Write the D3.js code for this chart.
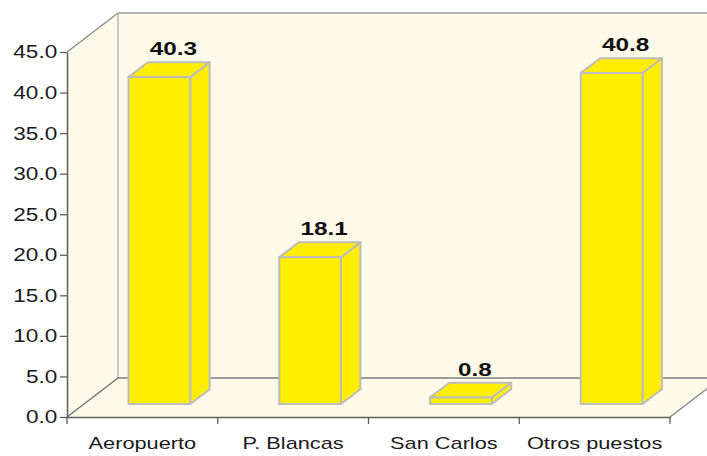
<!DOCTYPE html>
<html>
<head>
<meta charset="utf-8">
<script src="https://cdn.jsdelivr.net/npm/d3@7"></script>
<style>
  html, body { margin: 0; padding: 0; background: #ffffff; }
  svg { display: block; }
  text { font-family: "Liberation Sans", Arial, Helvetica, sans-serif; fill: #1a1a1a; }
</style>
</head>
<body>
<svg id="chart" width="707" height="456"></svg>
<script>
// Chart data
const categories = ["Aeropuerto", "P. Blancas", "San Carlos", "Otros puestos"];
const values = [40.3, 18.1, 0.8, 40.8];
const yTicks = [0, 5, 10, 15, 20, 25, 30, 35, 40, 45];

// Layout
const W = 707, H = 456;
const plot = { left: 67, right: 670, top: 52, bottom: 417 };
const depth = { dx: 51, dy: 39 };          // oblique offset of the back wall
const barZ0 = 1 / 3, barDZ = 0.38;          // bar depth position (fraction of total depth)
const textScaleX = 1.28;                    // horizontal stretch of the lettering

const svg = d3.select("#chart");

const x = d3.scaleBand().domain(categories).range([plot.left, plot.right]).padding(0);
const y = d3.scaleLinear().domain([0, 45]).range([plot.bottom, plot.top]);

const cream = "#fefae9";
const yBase = y(0);
const yTopWall = y(45) - depth.dy;
const xBack = plot.left + depth.dx;

// Side wall, back wall and floor
svg.append("polygon")
  .attr("points", [[plot.left, y(45)], [xBack, yTopWall], [xBack, yBase - depth.dy], [plot.left, yBase]].join(" "))
  .attr("fill", cream);
svg.append("rect")
  .attr("x", xBack).attr("y", yTopWall)
  .attr("width", plot.right + depth.dx - xBack).attr("height", yBase - depth.dy - yTopWall)
  .attr("fill", cream);
svg.append("polygon")
  .attr("points", [[plot.left, yBase], [xBack, yBase - depth.dy], [plot.right + depth.dx, yBase - depth.dy], [plot.right, yBase]].join(" "))
  .attr("fill", cream);

// Wall edges
const edge = (x1, y1, x2, y2, color, w) => svg.append("line")
  .attr("x1", x1).attr("y1", y1).attr("x2", x2).attr("y2", y2)
  .attr("stroke", color).attr("stroke-width", w || 1.3);
edge(plot.left, y(45), xBack, yTopWall, "#8a8a8a");
edge(xBack, yTopWall, W + 5, yTopWall, "#9a9a9a");
edge(xBack, yTopWall, xBack, yBase - depth.dy, "#b0b0b0");
edge(xBack, yBase - depth.dy, W + 5, yBase - depth.dy, "#7d7d7d", 1.6);
edge(plot.left, yBase, xBack, yBase - depth.dy, "#6e6e6e");
edge(plot.right, yBase, plot.right + depth.dx, yBase - depth.dy, "#7d7d7d");

// Bars (front, side, top faces)
const barW = x.bandwidth() * 0.41;
const offX = depth.dx * barZ0, offY = depth.dy * barZ0;
const ddx = depth.dx * barDZ, ddy = depth.dy * barDZ;
const yellow = "#ffee00";
const barStroke = "#bdbdbd";

const bars = svg.append("g").selectAll("g").data(categories).join("g");
bars.each(function (c, i) {
  const g = d3.select(this);
  const x0 = x(c) + (x.bandwidth() - barW) / 2 + offX;
  const x1 = x0 + barW;
  const yb = y(0) - offY;
  const yt = y(values[i]) - offY;
  g.append("polygon")
    .attr("points", [[x1, yb], [x1, yt], [x1 + ddx, yt - ddy], [x1 + ddx, yb - ddy]].join(" "))
    .attr("fill", yellow).attr("stroke", barStroke).attr("stroke-width", 2).attr("stroke-linejoin", "round");
  g.append("polygon")
    .attr("points", [[x0, yt], [x1, yt], [x1 + ddx, yt - ddy], [x0 + ddx, yt - ddy]].join(" "))
    .attr("fill", yellow).attr("stroke", barStroke).attr("stroke-width", 2).attr("stroke-linejoin", "round");
  g.append("rect")
    .attr("x", x0).attr("y", yt).attr("width", barW).attr("height", yb - yt)
    .attr("fill", yellow).attr("stroke", barStroke).attr("stroke-width", 2);
  // Value label
  g.append("text")
    .attr("transform", `translate(${x0 + barW / 2 + 14},${yt - ddy - 7}) scale(${textScaleX},1)`)
    .attr("text-anchor", "middle")
    .attr("font-size", 19).attr("font-weight", "bold")
    .style("fill", "#111")
    .text(values[i].toFixed(1));
});

// Y axis
const yAxis = svg.append("g")
  .attr("transform", `translate(${plot.left},0)`)
  .call(d3.axisLeft(y).tickValues(yTicks).tickFormat(d3.format(".1f")).tickSize(7).tickSizeOuter(0).tickPadding(1));
yAxis.select(".domain").attr("stroke", "#5e5e5e").attr("stroke-width", 1.5);
yAxis.selectAll(".tick line").attr("stroke", "#5e5e5e").attr("stroke-width", 1.3);
yAxis.selectAll(".tick text")
  .attr("font-size", 18.5).attr("font-family", null)
  .attr("transform", "scale(1.22,1)")
  .style("fill", "#1a1a1a");

// X axis (category labels centred in bands)
const xAxis = svg.append("g")
  .attr("transform", `translate(0,${plot.bottom})`)
  .call(d3.axisBottom(x).tickSize(0).tickPadding(20));
xAxis.select(".domain").attr("stroke", "#5e5e5e").attr("stroke-width", 1.5);
xAxis.selectAll(".tick text")
  .attr("font-size", 17).attr("font-family", null)
  .attr("transform", `scale(${textScaleX},1)`)
  .style("fill", "#1a1a1a");

// Category boundary ticks
const bounds = categories.map(c => x(c)).concat([x.range()[1]]);
xAxis.selectAll(".bound").data(bounds).join("line")
  .attr("class", "bound")
  .attr("x1", d => d).attr("x2", d => d)
  .attr("y1", 0).attr("y2", 7)
  .attr("stroke", "#5e5e5e").attr("stroke-width", 1.3);
</script>
</body>
</html>
